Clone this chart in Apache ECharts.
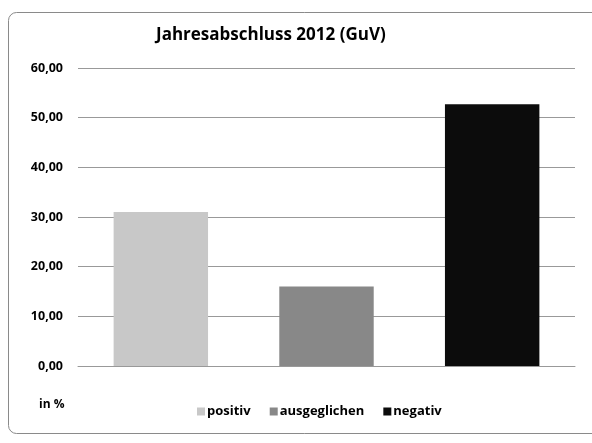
<!DOCTYPE html>
<html>
<head>
<meta charset="utf-8">
<script src="https://cdn.jsdelivr.net/npm/echarts@6/dist/echarts.min.js"></script>
<style>
  html, body { margin: 0; padding: 0; background: #fff; }
  #chart { width: 592px; height: 443px; }
</style>
</head>
<body>
<div id="chart"></div>
<script>
// Jahresabschluss 2012 (GuV): Anteile in %
const categories = ['positiv', 'ausgeglichen', 'negativ'];
const values = [31.0, 16.0, 52.7];
const colors = ['#c8c8c8', '#888888', '#0c0c0c'];
const yTicks = { min: 0, max: 60, interval: 10 };

const fontFamily = '"Open Sans", "Liberation Sans", sans-serif';

const chart = echarts.init(document.getElementById('chart'), null, { renderer: 'canvas' });

// One series per category so each bar gets its own legend entry;
// stacking keeps every bar centred on its category.
const series = categories.map((name, i) => ({
  name: name,
  type: 'bar',
  stack: 'all',
  barWidth: '57%',
  itemStyle: { color: colors[i] },
  data: categories.map((_, j) => (j === i ? values[i] : '-'))
}));

chart.setOption({
  animation: false,
  backgroundColor: '#ffffff',
  title: {
    text: 'Jahresabschluss 2012 (GuV)',
    left: 151,
    top: 22,
    textStyle: { fontFamily: fontFamily, fontSize: 17, fontWeight: 'bold', color: '#000' }
  },
  legend: {
    data: categories,
    top: 400,
    left: 192,
    itemWidth: 8,
    itemHeight: 8,
    itemGap: 19,
    icon: 'rect',
    textStyle: { fontFamily: fontFamily, fontSize: 13, fontWeight: 'bold', color: '#000', padding: [0, 0, 0, -3] }
  },
  grid: { left: 78, right: 17, top: 68, bottom: 77, containLabel: false },
  xAxis: {
    type: 'category',
    data: categories,
    axisLine: { show: true, lineStyle: { color: '#999', width: 1 } },
    axisTick: { show: false },
    axisLabel: { show: false }
  },
  yAxis: {
    type: 'value',
    min: yTicks.min,
    max: yTicks.max,
    interval: yTicks.interval,
    axisLine: { show: false },
    axisTick: { show: false },
    splitLine: { lineStyle: { color: '#999', width: 1 } },
    axisLabel: {
      margin: 15,
      fontFamily: fontFamily,
      fontSize: 12.5,
      fontWeight: 'bold',
      color: '#000',
      formatter: v => v.toFixed(2).replace('.', ',')
    }
  },
  graphic: [
    {
      type: 'rect',
      shape: { x: 8.5, y: 12.5, width: 600, height: 421, r: 8 },
      style: { fill: 'none', stroke: '#8a8a8a', lineWidth: 1 },
      silent: true
    },
    {
      type: 'text',
      left: 39,
      top: 399,
      style: { text: 'in %', fontFamily: fontFamily, fontSize: 12, fontWeight: 'bold', fill: '#000' }
    }
  ],
  series: series
});
</script>
</body>
</html>
